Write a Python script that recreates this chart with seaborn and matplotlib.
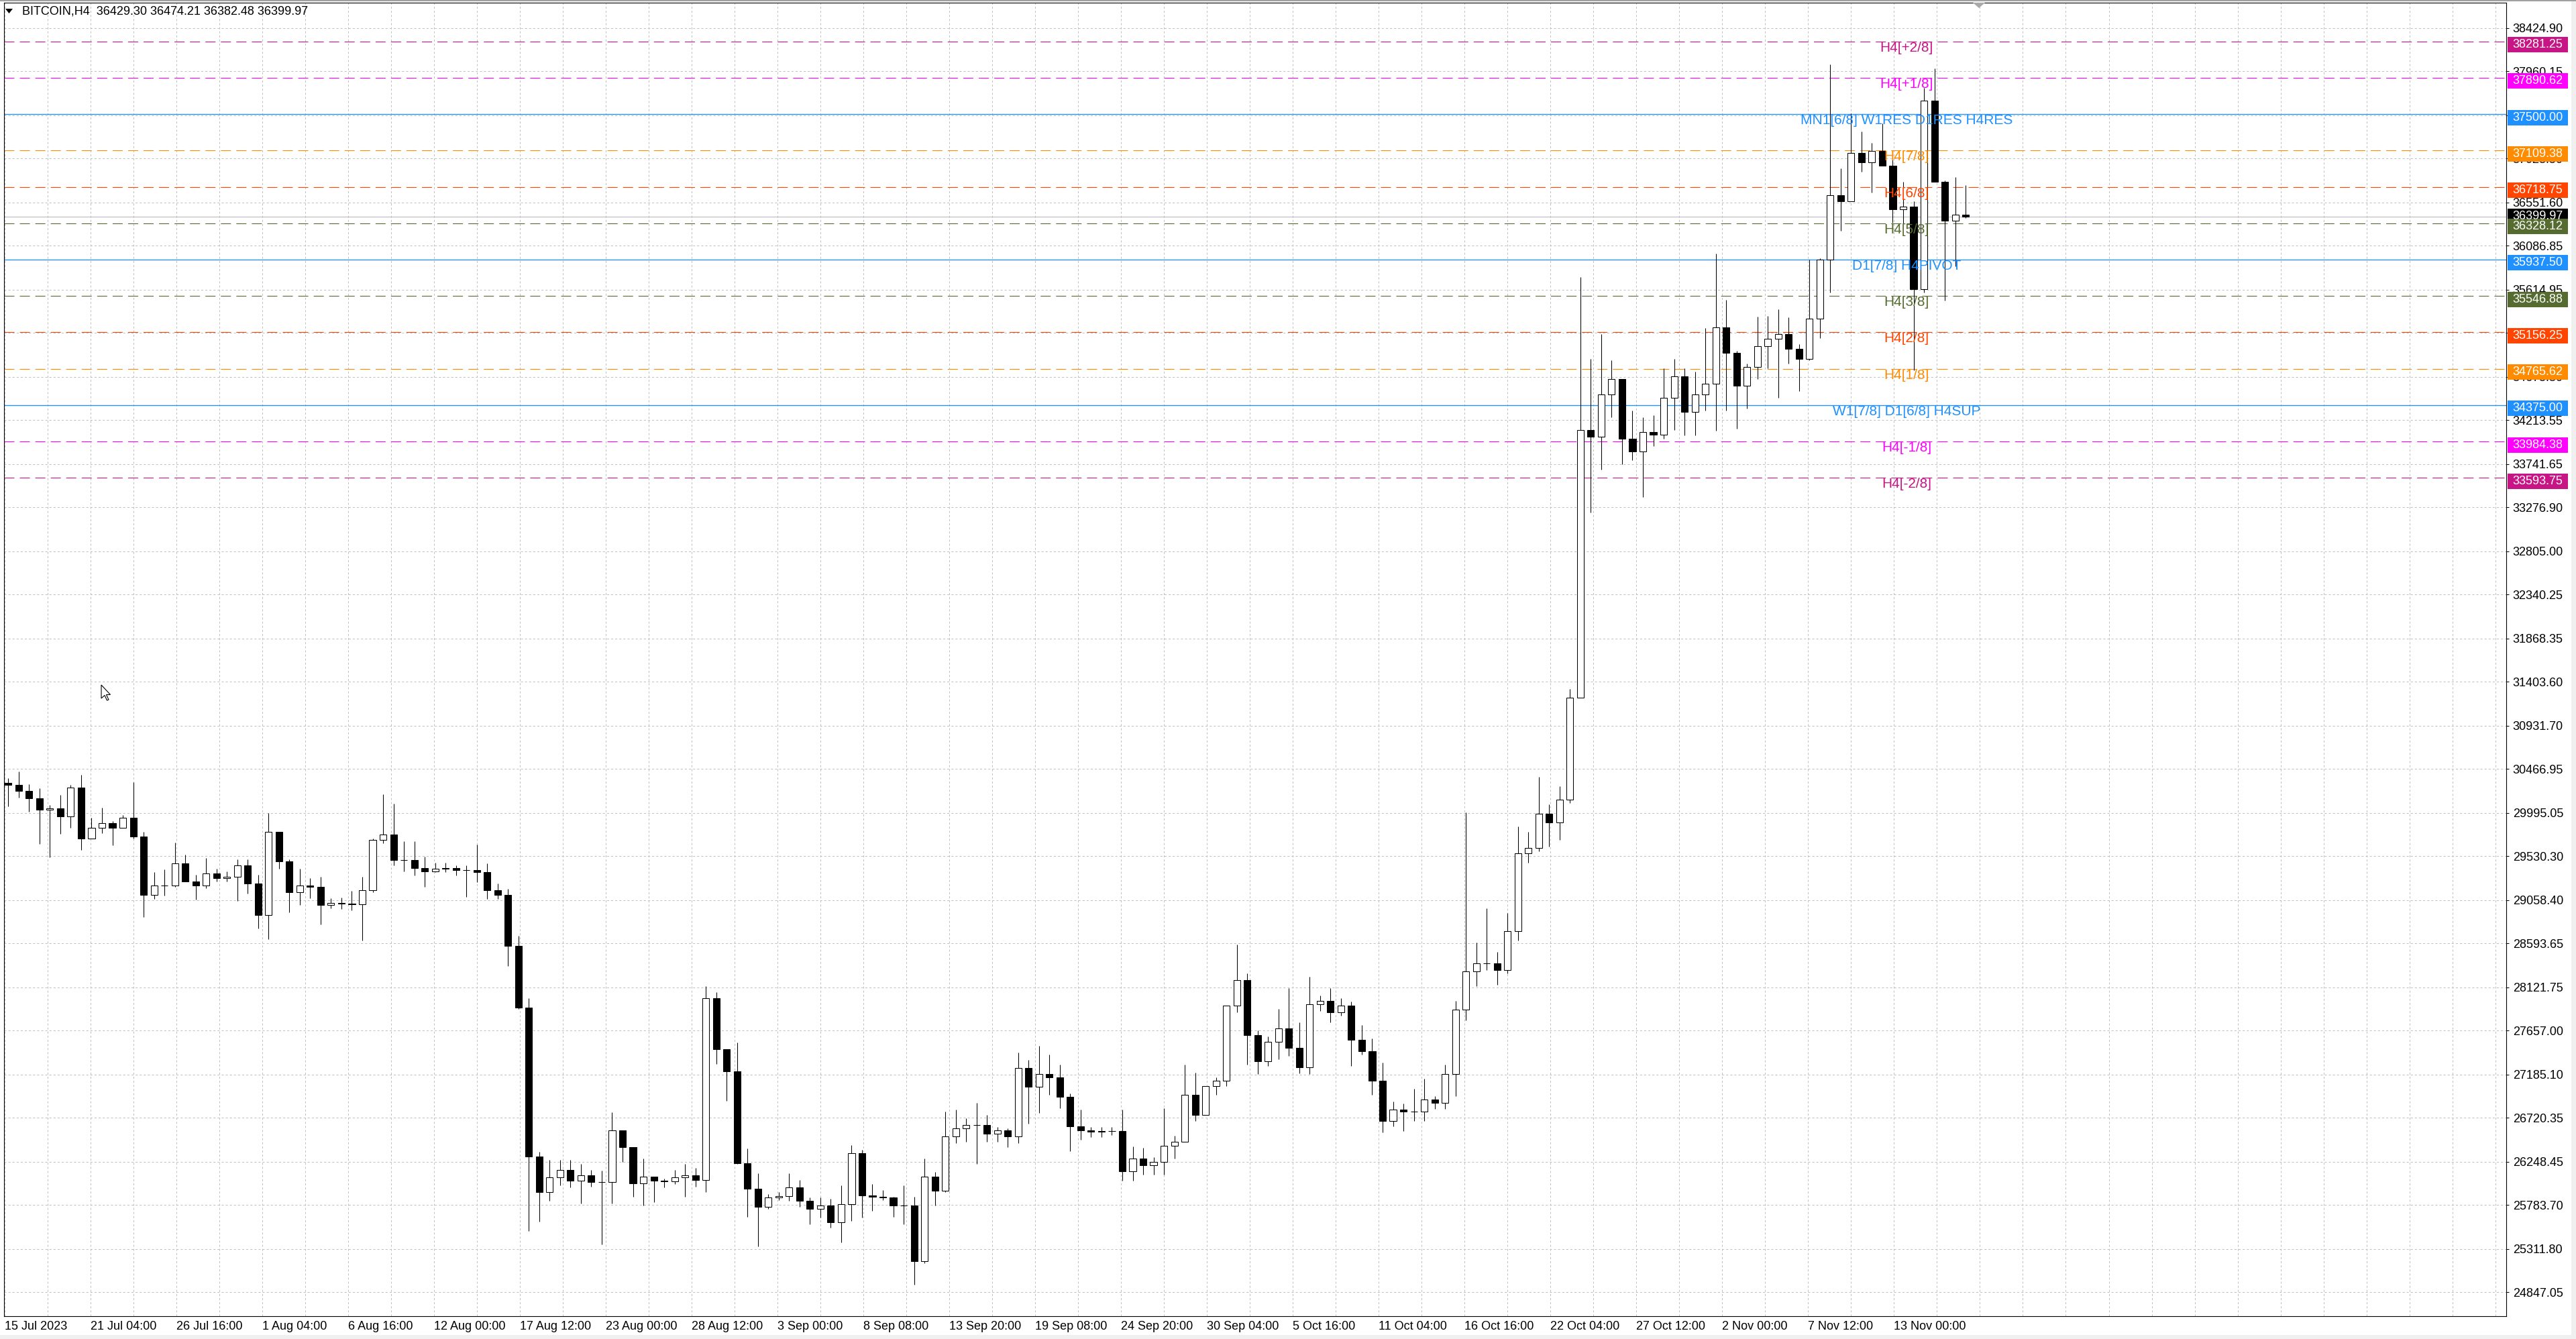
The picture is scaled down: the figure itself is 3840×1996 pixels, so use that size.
import numpy as np
import pandas as pd
import seaborn as sns
import matplotlib
matplotlib.use("Agg")
from matplotlib import pyplot as plt
from matplotlib import transforms
from matplotlib.patches import Rectangle, Polygon

W, H = 3840, 1996
BARS_PER_CANDLE = 4  # each drawn candle groups four H4 bars

header = "BITCOIN,H4  36429.30 36474.21 36382.48 36399.97"

first_open = 30320.0
highs = [
    30366, 30443, 30306, 30258, 30078, 30186, 30299, 30402, 29946, 30054,
    29910, 29970, 30323, 29790, 29358, 29389, 29677, 29550, 29334, 29509,
    29394, 29370, 29500, 29500, 29334, 29994, 29795, 29500, 29394, 29298,
    29310, 29082, 29090, 29159, 29310, 29718, 30193, 30097, 29694, 29694,
    29526, 29459, 29459, 29430, 29430, 29658, 29454, 29238, 29178, 28674,
    28008, 26357, 26273, 26273, 26273, 26225, 26165, 26153, 26782, 26561,
    26405, 26285, 26081, 26069, 26165, 26225, 26185, 28133, 28073, 27449,
    27528, 26393, 26129, 25901, 25925, 26129, 26057, 25865, 25865, 25853,
    25997, 26429, 26381, 26009, 25949, 25877, 25997, 25877, 26285, 26141,
    26789, 26813, 26717, 26885, 26753, 26621, 26609, 27425, 27341, 27495,
    27401, 27296, 26982, 26810, 26623, 26623, 26623, 26810, 26417, 26396,
    26302, 26825, 26528, 27296, 27209, 26976, 27157, 27268, 28581, 28273,
    27663, 27593, 27890, 28117, 27750, 28239, 28036, 28117, 28006, 27970,
    27715, 27575, 27314, 26895, 26878, 27035, 27140, 26955, 27296, 27977,
    30001, 28605, 28971, 28500, 28919, 29851, 29792, 30385, 30088, 30280,
    31327, 35747, 34874, 35140, 34855, 34658, 34313, 34244, 34267, 34773,
    34874, 34773, 34736, 35204, 35999, 35508, 34956, 34819, 35324, 35333,
    35407, 35315, 35028, 35935, 35952, 38035, 36918, 37505, 37313, 37191,
    37400, 37051, 36772, 36563, 37784, 37993, 36789, 36824, 36737,
]
lows = [
    30066, 30162, 30006, 29665, 29521, 29771, 29838, 29598, 29742, 29778,
    29651, 29874, 29718, 28878, 29070, 29106, 29202, 29262, 29066, 29190,
    29262, 29262, 29054, 29130, 28758, 28638, 29394, 28931, 29010, 29082,
    28799, 28974, 28962, 28950, 28626, 29142, 29670, 29430, 29370, 29322,
    29202, 29358, 29358, 29322, 29094, 29250, 29070, 29070, 28350, 27894,
    25505, 25608, 25829, 25997, 25973, 25805, 25985, 25361, 25805, 26249,
    25877, 25781, 25817, 25973, 26009, 25877, 25985, 25925, 27298, 26905,
    26225, 25661, 25337, 25745, 25841, 25829, 25769, 25577, 25649, 25541,
    25385, 25613, 25649, 25721, 25841, 25661, 25577, 24929, 25157, 25781,
    25925, 26453, 26465, 26225, 26465, 26465, 26405, 26453, 26657, 26773,
    26965, 26825, 26361, 26484, 26518, 26518, 26536, 26050, 26050, 26110,
    26110, 26110, 26284, 26870, 26686, 26803, 26965, 27060, 27855, 27296,
    27192, 27279, 27348, 27383, 27199, 27192, 27872, 27750, 27820, 27279,
    27401, 26965, 26563, 26633, 26581, 26686, 26686, 26815, 26815, 26951,
    27767, 28134, 28308, 28151, 28273, 28622, 29460, 29582, 29635, 29704,
    30100, 31235, 33220, 33679, 34244, 33739, 33785, 33385, 33937, 34015,
    34106, 34047, 34047, 34313, 34097, 34313, 34120, 34336, 34658, 34773,
    34451, 34819, 34522, 34854, 35098, 35586, 36249, 36563, 36884, 36660,
    36946, 36336, 36319, 34749, 35586, 36772, 35499, 35865, 36382.48,
]
closes = [
    30299, 30234, 30150, 30030, 30042, 29958, 30270, 29718, 29838, 29886,
    29838, 29946, 29742, 29118, 29214, 29214, 29454, 29262, 29214, 29346,
    29298, 29310, 29430, 29238, 28902, 29790, 29478, 29142, 29214, 29202,
    29010, 29027, 29022, 29017, 29166, 29706, 29766, 29490, 29490, 29406,
    29370, 29399, 29406, 29382, 29382, 29358, 29166, 29118, 28566, 27905,
    26309, 25925, 26081, 26165, 26045, 26105, 26033, 26033, 26585, 26405,
    26021, 26093, 26050, 26040, 26081, 26105, 26057, 28008, 27461, 27221,
    26237, 25961, 25769, 25865, 25882, 25973, 25829, 25745, 25781, 25601,
    25793, 26345, 25889, 25877, 25865, 25781, 25781, 25181, 26093, 25937,
    26525, 26609, 26645, 26645, 26549, 26585, 26525, 27257, 27053, 27192,
    27157, 26947, 26633, 26590, 26571, 26581, 26581, 26150, 26284, 26214,
    26250, 26424, 26466, 26965, 26755, 27060, 27119, 27925, 28204, 27610,
    27331, 27540, 27680, 27471, 27262, 27942, 27977, 27855, 27925, 27558,
    27436, 27122, 26686, 26810, 26792, 26792, 26920, 26885, 27192, 27883,
    28291, 28378, 28378, 28308, 28727, 29565, 29617, 29984, 29896, 30141,
    31235, 34106, 34038, 34488, 34658, 34015, 33877, 34084, 34060, 34451,
    34681, 34304, 34488, 34603, 35209, 34933, 34580, 34786, 35011, 35085,
    35140, 34979, 34871, 35300, 35935, 36632, 36563, 37086, 36981, 37103,
    36946, 36475, 36510, 35621, 37644, 36772, 36353, 36423, 36399.97,
]

date_labels = [
    "15 Jul 2023", "21 Jul 04:00", "26 Jul 16:00", "1 Aug 04:00", "6 Aug 16:00",
    "12 Aug 00:00", "17 Aug 12:00", "23 Aug 00:00", "28 Aug 12:00", "3 Sep 00:00",
    "8 Sep 08:00", "13 Sep 20:00", "19 Sep 08:00", "24 Sep 20:00", "30 Sep 04:00",
    "5 Oct 16:00", "11 Oct 04:00", "16 Oct 16:00", "22 Oct 04:00", "27 Oct 12:00",
    "2 Nov 00:00", "7 Nov 12:00", "13 Nov 00:00",
]
price_ticks = [
    38424.90, 37960.15, 37488.25, 37023.50, 36551.60, 36086.85, 35614.95,
    35150.20, 34678.30, 34213.55, 33741.65, 33276.90, 32805.00, 32340.25,
    31868.35, 31403.60, 30931.70, 30466.95, 29995.05, 29530.30, 29058.40,
    28593.65, 28121.75, 27657.00, 27185.10, 26720.35, 26248.45, 25783.70,
    25311.80, 24847.05,
]

level_prices = [38281.25, 37890.62, 37500.00, 37109.38, 36718.75, 36328.12, 35937.50,
                35546.88, 35156.25, 34765.62, 34375.00, 33984.38, 33593.75]
level_names = ["H4[+2/8]", "H4[+1/8]", "MN1[6/8] W1RES D1RES H4RES", "H4[7/8]", "H4[6/8]",
               "H4[5/8]", "D1[7/8] H4PIVOT", "H4[3/8]", "H4[2/8]", "H4[1/8]",
               "W1[7/8] D1[6/8] H4SUP", "H4[-1/8]", "H4[-2/8]"]
level_colors = ["#C71585", "#FF00FF", "#1E90FF", "#FF8C00", "#FF4500", "#556B2F", "#1E90FF",
                "#556B2F", "#FF4500", "#FF8C00", "#1E90FF", "#FF00FF", "#C71585"]
bid_price = 36399.97

# ---- data frame of candles
ohlc = pd.DataFrame({"high": highs, "low": lows, "close": closes})
ohlc["open"] = [first_open] + closes[:-1]
ohlc["high"] = ohlc[["high", "open", "close"]].max(axis=1)
ohlc["low"] = ohlc[["low", "open", "close"]].min(axis=1)
ohlc["x"] = ohlc.index * BARS_PER_CANDLE + 1.5
ohlc["bull"] = ohlc["close"] >= ohlc["open"]

sns.set_theme(style="white")
plt.rcParams["font.family"] = ["Liberation Sans", "DejaVu Sans"]
plt.rcParams["lines.scale_dashes"] = False

fig = plt.figure(figsize=(W / 100, H / 100), dpi=100, facecolor="white")
ax = fig.add_axes([6 / W, 34 / H, 3730 / W, 1958 / H])
ax.set_facecolor("white")

YMIN, YMAX = 24591.3, 38696.5
XMIN, XMAX = -0.13, 961.2
ax.set_xlim(XMIN, XMAX)
ax.set_ylim(YMIN, YMAX)
px_per_price = 1958 / (YMAX - YMIN)

# grid
grid_kw = dict(color="#C0C0C0", linewidth=0.72, linestyle=(0, (2.2, 2.2)))
major_x = [33 * j for j in range(len(date_labels))]
minor_x = [16.5 * m for m in range(59) if not (m % 2 == 0 and m <= 44)]
ax.set_xticks(major_x)
ax.set_xticks(minor_x, minor=True)
ax.set_xticklabels(date_labels, ha="left")
ax.grid(True, which="both", axis="x", **grid_kw)
ax.yaxis.tick_right()
ax.set_yticks(price_ticks)
ax.set_yticklabels([f"{v:.2f}" for v in price_ticks])
ax.grid(True, which="major", axis="y", **grid_kw)
ax.set_axisbelow(True)

ax.tick_params(axis="x", which="major", length=2.9, width=0.72, direction="out",
               pad=2, labelsize=13, colors="black")
ax.tick_params(axis="x", which="minor", length=0)
ax.tick_params(axis="y", which="major", length=2.9, width=0.72, direction="out",
               pad=4.1, labelsize=13, colors="black")
for sp in ax.spines.values():
    sp.set_color("black")
    sp.set_linewidth(0.8)

# levels
for price, name, col in zip(level_prices, level_names, level_colors):
    solid = any(tag in name for tag in ("RES", "PIVOT", "SUP"))
    if solid:
        ax.axhline(price, color=col, linewidth=0.95, zorder=1)
    else:
        ax.axhline(price, color=col, linewidth=0.8, linestyle=(0, (10.8, 5.8)), zorder=1)
    ax.text(730.8, price, name, color=col, ha="center", va="top", fontsize=15, zorder=5)
ax.axhline(bid_price, color="#C0C0C0", linewidth=0.9, zorder=1)

# candles
ax.vlines(ohlc["x"], ohlc["low"], ohlc["high"], color="black", linewidth=0.75, zorder=2)
body_lo = ohlc[["open", "close"]].min(axis=1)
body_h = (ohlc["close"] - ohlc["open"]).abs()
ax.bar(ohlc["x"], body_h, bottom=body_lo, width=2.6,
       color=np.where(ohlc["bull"], "white", "black"),
       edgecolor="black", linewidth=0.75, zorder=3)

# price boxes on the right scale
box_tf = transforms.blended_transform_factory(fig.transFigure, ax.transData)


def price_box(price, color, shift_px):
    h = 23 / px_per_price
    center = price - shift_px / px_per_price
    ax.add_patch(Rectangle((3738 / W, center - h / 2), 90 / W, h, transform=box_tf,
                           facecolor=color, edgecolor="none", clip_on=False, zorder=6))
    ax.text(3783 / W, center, f"{price:.2f}", transform=box_tf, ha="center", va="center",
            color="white", fontsize=13, zorder=7, clip_on=False)


boxes = list(zip(level_prices, level_colors))
for price, col in boxes[:5]:
    price_box(price, col, 5)
price_box(bid_price, "black", 0)
for price, col in boxes[5:]:
    price_box(price, col, 5)

# header and window chrome
fig.text(32.6 / W, 1 - 17 / H, header, ha="left", va="center", fontsize=13, color="black")


def fig_poly(pts, **kw):
    fig.patches.append(Polygon([(x / W, 1 - y / H) for x, y in pts], closed=True,
                               transform=fig.transFigure, figure=fig, **kw))


fig_poly([(8, 13), (19, 13), (13.5, 20)], facecolor="black", edgecolor="none")
fig_poly([(2941, 4), (2959, 4), (2950, 12)], facecolor="#A9A9A9", edgecolor="none")
cursor = [(0, 0), (0, 20), (5, 15.5), (8.5, 23), (11, 22), (7.5, 14.5), (13.5, 14.5)]
fig_poly([(151 + x, 1021 + y) for x, y in cursor], facecolor="white", edgecolor="black",
         linewidth=0.8)
fig.patches.append(Rectangle((3833 / W, 0), 7 / W, 1, transform=fig.transFigure,
                             figure=fig, facecolor="#F0F0F0", edgecolor="none"))
fig.patches.append(Rectangle((0, 0), 1, 6 / H, transform=fig.transFigure,
                             figure=fig, facecolor="#F0F0F0", edgecolor="none"))
fig.patches.append(Rectangle((0, 1 - 1.5 / H), 1, 1.5 / H, transform=fig.transFigure,
                             figure=fig, facecolor="#A0A0A0", edgecolor="none"))

fig.savefig("out.png", dpi=100, facecolor="white")
